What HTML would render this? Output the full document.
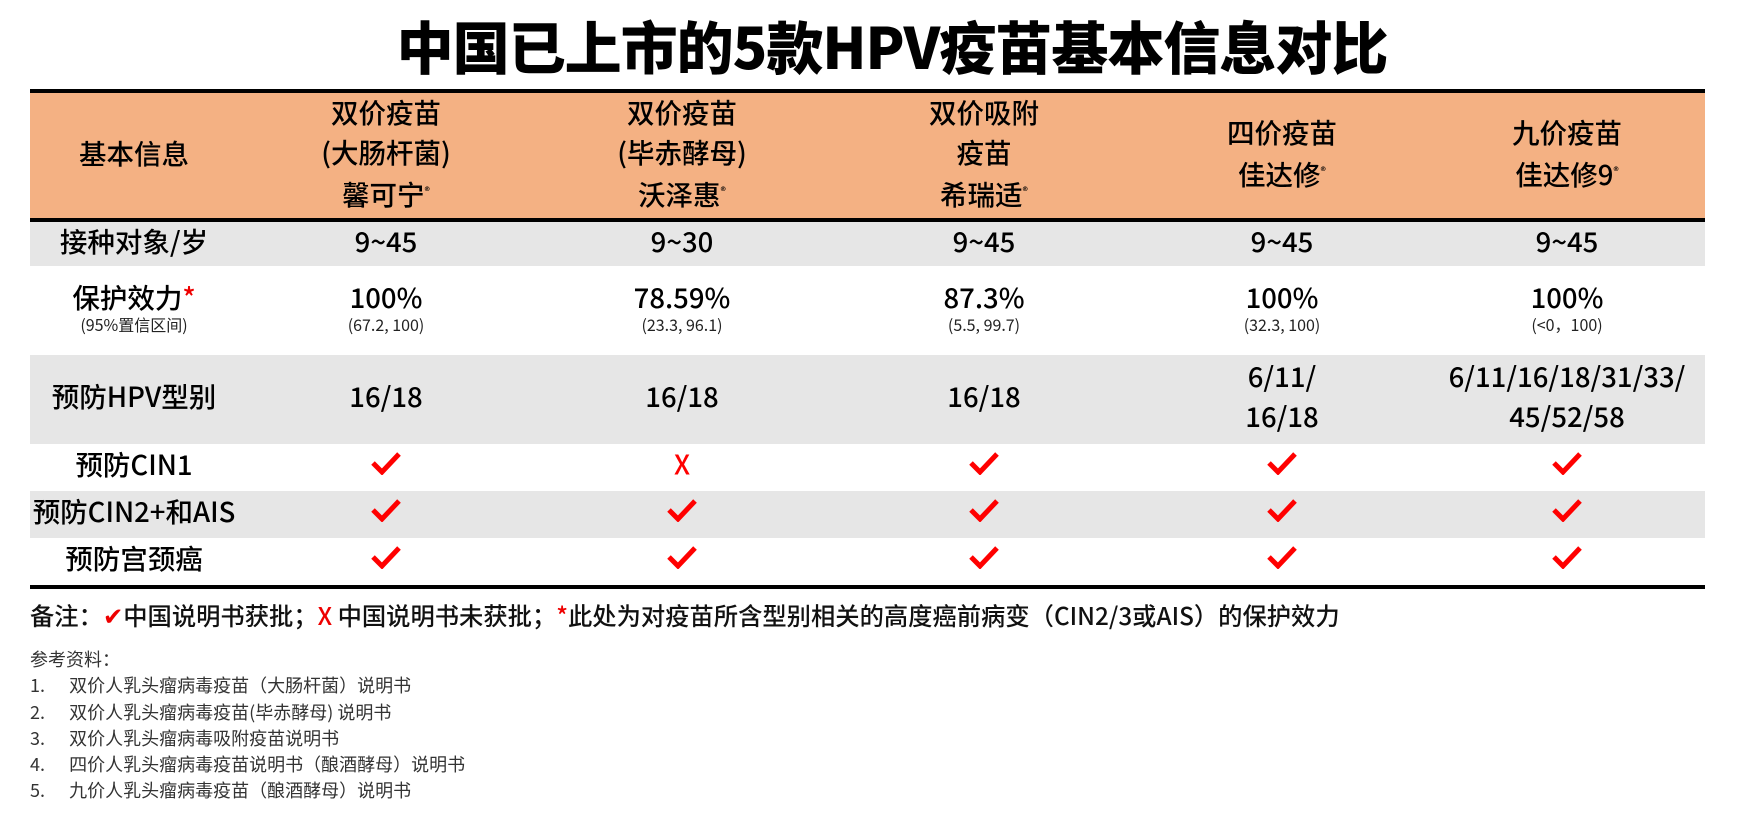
<!DOCTYPE html>
<html><head><meta charset="utf-8">
<style>
body{margin:0;width:1753px;height:830px;background:#fff;font-family:"Liberation Sans","Noto Sans CJK SC",sans-serif;position:relative;overflow:hidden;color:#111}
.t{position:absolute;transform:translate(-50%,-50%);white-space:nowrap;text-align:center}
#title{left:892px;top:45px;font-size:57px;font-weight:900;font-family:"Noto Sans CJK SC",sans-serif;letter-spacing:-1px;color:#000}
.band{position:absolute;left:30px;width:1675px}
.c{font-family:"Noto Sans CJK SC",sans-serif;font-size:27.5px;line-height:40px;font-weight:500;color:#000}
.s{font-family:"Noto Sans CJK SC",sans-serif;font-size:16px;color:#222;line-height:18px}
.note{position:absolute;left:30px;font-family:"Noto Sans CJK SC",sans-serif}
sup{font-size:11px}
</style></head><body>
<div id="title" class="t">中国已上市的5款HPV疫苗基本信息对比</div>
<div class="band" style="top:89px;height:4px;background:#000"></div>
<div class="band" style="top:93px;height:125px;background:#F4B183"></div>
<div class="band" style="top:218px;height:4px;background:#000"></div>
<div class="band" style="top:222px;height:44px;background:#E6E6E6"></div>
<div class="band" style="top:355px;height:89px;background:#E6E6E6"></div>
<div class="band" style="top:491px;height:47px;background:#E6E6E6"></div>
<div class="band" style="top:585px;height:4px;background:#000"></div>
<div id="cells"></div>
<div class="note" style="top:597px;font-size:24.3px;font-weight:500">备注：<span style="color:#e00">✔</span>中国说明书获批；<span style="color:#e00">X</span> 中国说明书未获批；<span style="color:#e00">*</span>此处为对疫苗所含型别相关的高度癌前病变（CIN2/3或AIS）的保护效力</div>
<div class="note" style="top:646px;font-size:18px;color:#333;line-height:26.3px">参考资料：<br>
1.&nbsp;&nbsp;&nbsp;&nbsp;&nbsp;&nbsp;双价人乳头瘤病毒疫苗（大肠杆菌）说明书<br>
2.&nbsp;&nbsp;&nbsp;&nbsp;&nbsp;&nbsp;双价人乳头瘤病毒疫苗(毕赤酵母) 说明书<br>
3.&nbsp;&nbsp;&nbsp;&nbsp;&nbsp;&nbsp;双价人乳头瘤病毒吸附疫苗说明书<br>
4.&nbsp;&nbsp;&nbsp;&nbsp;&nbsp;&nbsp;四价人乳头瘤病毒疫苗说明书（酿酒酵母）说明书<br>
5.&nbsp;&nbsp;&nbsp;&nbsp;&nbsp;&nbsp;九价人乳头瘤病毒疫苗（酿酒酵母）说明书</div>
<script>
const colX=[134,386,682,984,1282,1567];
const rowY=[152,240,306,395,463,510,557];
const header=['基本信息','双价疫苗<br>(大肠杆菌)<br>馨可宁<sup>®</sup>','双价疫苗<br>(毕赤酵母)<br>沃泽惠<sup>®</sup>','双价吸附<br>疫苗<br>希瑞适<sup>®</sup>','四价疫苗<br>佳达修<sup>®</sup>','九价疫苗<br>佳达修9<sup>®</sup>'];
const ages=['接种对象/岁','9~45','9~30','9~45','9~45','9~45'];
const eff=['保护效力<span style="color:#e00">*</span>','100%','78.59%','87.3%','100%','100%'];
const ci=['(95%置信区间)','(67.2, 100)','(23.3, 96.1)','(5.5, 99.7)','(32.3, 100)','(&lt;0，100)'];
const types=['预防HPV型别','16/18','16/18','16/18','6/11/<br>16/18','6/11/16/18/31/33/<br>45/52/58'];
const cin1=['预防CIN1',1,0,1,1,1];
const cin2=['预防CIN2+和AIS',1,1,1,1,1];
const cc=['预防宫颈癌',1,1,1,1,1];
const root=document.getElementById('cells');
function add(x,y,html,cls,name){const d=document.createElement('div');d.className='t '+cls;d.style.left=x+'px';d.style.top=y+'px';d.innerHTML=html;


root.appendChild(d);}
const check='<svg width="30" height="24" viewBox="0 0 30 24"><path d="M2 12 L11 21 L28 3" fill="none" stroke="#f00" stroke-width="5"/></svg>';
const cross='<span style="color:#f00;font-size:27px">X</span>';
colX.forEach((x,i)=>{
 add(x,rowY[0],header[i],'c','header-cell');
 add(x,rowY[1],ages[i],'c','age-cell');
 add(x,rowY[2]-10,eff[i],'c','efficacy-cell');
 add(x,rowY[2]+18,ci[i],'s','ci-cell');
 add(x,rowY[3],types[i],'c','hpv-type-cell');
 [cin1,cin2,cc].forEach((arr,r)=>{
  const v=arr[i];
  add(x,rowY[4+r],i===0?v:(v?check:cross),'c',i===0?'row-label':(v?'check-mark':'cross-mark'));
 });
});
</script>
</body></html>
